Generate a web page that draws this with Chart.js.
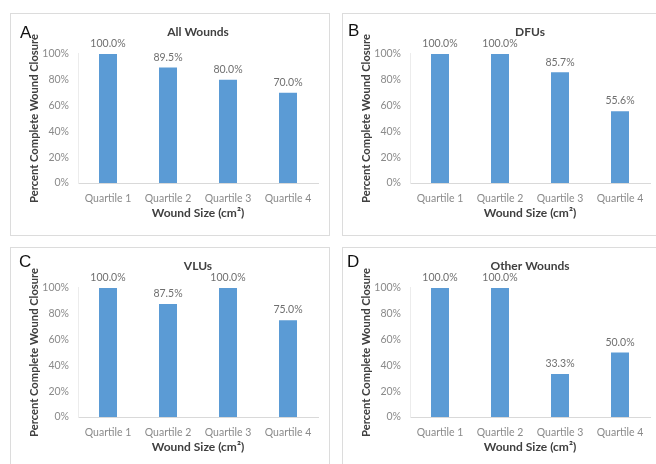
<!DOCTYPE html>
<html>
<head>
<meta charset="utf-8">
<script src="https://cdn.jsdelivr.net/npm/chart.js@4"></script>
<style>
  body { margin: 0; background: #fff; }
  #page { position: relative; width: 656px; height: 464px; overflow: hidden; background: #fff; }
  .panel { position: absolute; width: 320px; height: 223px; box-sizing: border-box; border: 1px solid #dcdcdc; }
  .panel canvas { display: block; }
  .letter { position: absolute; font-family: "Liberation Sans", Arial, sans-serif; font-size: 17px; line-height: 17px; color: #111; }
</style>
</head>
<body>
<div id="page">
  <div class="panel" style="left:10px; top:13px;"><canvas id="chartA" width="318" height="221"></canvas></div>
  <div class="panel" style="left:342px; top:13px;"><canvas id="chartB" width="318" height="221"></canvas></div>
  <div class="panel" style="left:10px; top:247px; height:226px;"><canvas id="chartC" width="318" height="221"></canvas></div>
  <div class="panel" style="left:342px; top:247px; height:226px;"><canvas id="chartD" width="318" height="221"></canvas></div>
  <span class="letter" style="left:20px; top:24px;">A</span>
  <span class="letter" style="left:348px; top:22px;">B</span>
  <span class="letter" style="left:19px; top:253px;">C</span>
  <span class="letter" style="left:347px; top:253px;">D</span>
</div>
<script>
// values
const categories = ['Quartile 1', 'Quartile 2', 'Quartile 3', 'Quartile 4'];
const allWounds = [100.0, 89.5, 80.0, 70.0];
const dfus = [100.0, 100.0, 85.7, 55.6];
const vlus = [100.0, 87.5, 100.0, 75.0];
const otherWounds = [100.0, 100.0, 33.3, 50.0];
const yTicks = [0, 20, 40, 60, 80, 100];
const panelTitles = ['All Wounds', 'DFUs', 'VLUs', 'Other Wounds'];

const font = 'Lato, "Noto Sans", sans-serif';

// draw "100.0%" style labels above each bar
const barLabels = {
  id: 'barLabels',
  afterDatasetsDraw(chart) {
    const ctx = chart.ctx;
    const meta = chart.getDatasetMeta(0);
    const values = chart.data.datasets[0].data;
    ctx.save();
    ctx.font = '10.5px ' + font;
    ctx.fillStyle = '#6f6f6f';
    ctx.textAlign = 'center';
    ctx.textBaseline = 'bottom';
    meta.data.forEach((bar, i) => {
      ctx.fillText(values[i].toFixed(1) + '%', bar.x, bar.y - 5);
    });
    ctx.restore();
  }
};

function makeChart(id, title, values) {
  new Chart(document.getElementById(id), {
    type: 'bar',
    data: {
      labels: categories,
      datasets: [{
        data: values,
        backgroundColor: '#5b9bd5',
        categoryPercentage: 1,
        barPercentage: 0.3
      }]
    },
    options: {
      responsive: false,
      animation: false,
      layout: { padding: { left: 17, right: 11, top: 0, bottom: 10 } },
      plugins: {
        legend: { display: false },
        tooltip: { enabled: false },
        title: {
          display: true,
          text: title,
          fullSize: false,
          color: '#404040',
          font: { family: font, size: 12, weight: 'bold' },
          padding: { top: 10.5, bottom: 15 }
        }
      },
      scales: {
        x: {
          grid: { display: false, drawTicks: false },
          border: { color: '#d9d9d9' },
          ticks: { color: '#8a8a8a', padding: 9, font: { family: font, size: 10.5 } },
          title: {
            display: true,
            text: 'Wound Size (cm²)',
            color: '#404040',
            font: { family: font, size: 12, weight: 'bold' },
            padding: { top: 0, bottom: 5 }
          },
          afterFit(scale) { scale.height = 42; }
        },
        y: {
          min: 0,
          max: 100,
          grid: { display: false, drawTicks: false },
          border: { color: '#ececec' },
          afterBuildTicks(scale) { scale.ticks = yTicks.map(v => ({ value: v })); },
          ticks: {
            color: '#8a8a8a',
            padding: 9,
            font: { family: font, size: 10.5 },
            callback: v => v + '%'
          },
          title: {
            display: true,
            text: 'Percent Complete Wound Closure',
            color: '#404040',
            font: { family: font, size: 11.2, weight: 'bold' },
            padding: { top: 0, bottom: 0 }
          },
          afterFit(scale) { scale.width = 50; }
        }
      }
    },
    plugins: [barLabels]
  });
}

makeChart('chartA', panelTitles[0], allWounds);
makeChart('chartB', panelTitles[1], dfus);
makeChart('chartC', panelTitles[2], vlus);
makeChart('chartD', panelTitles[3], otherWounds);
</script>
</body>
</html>
